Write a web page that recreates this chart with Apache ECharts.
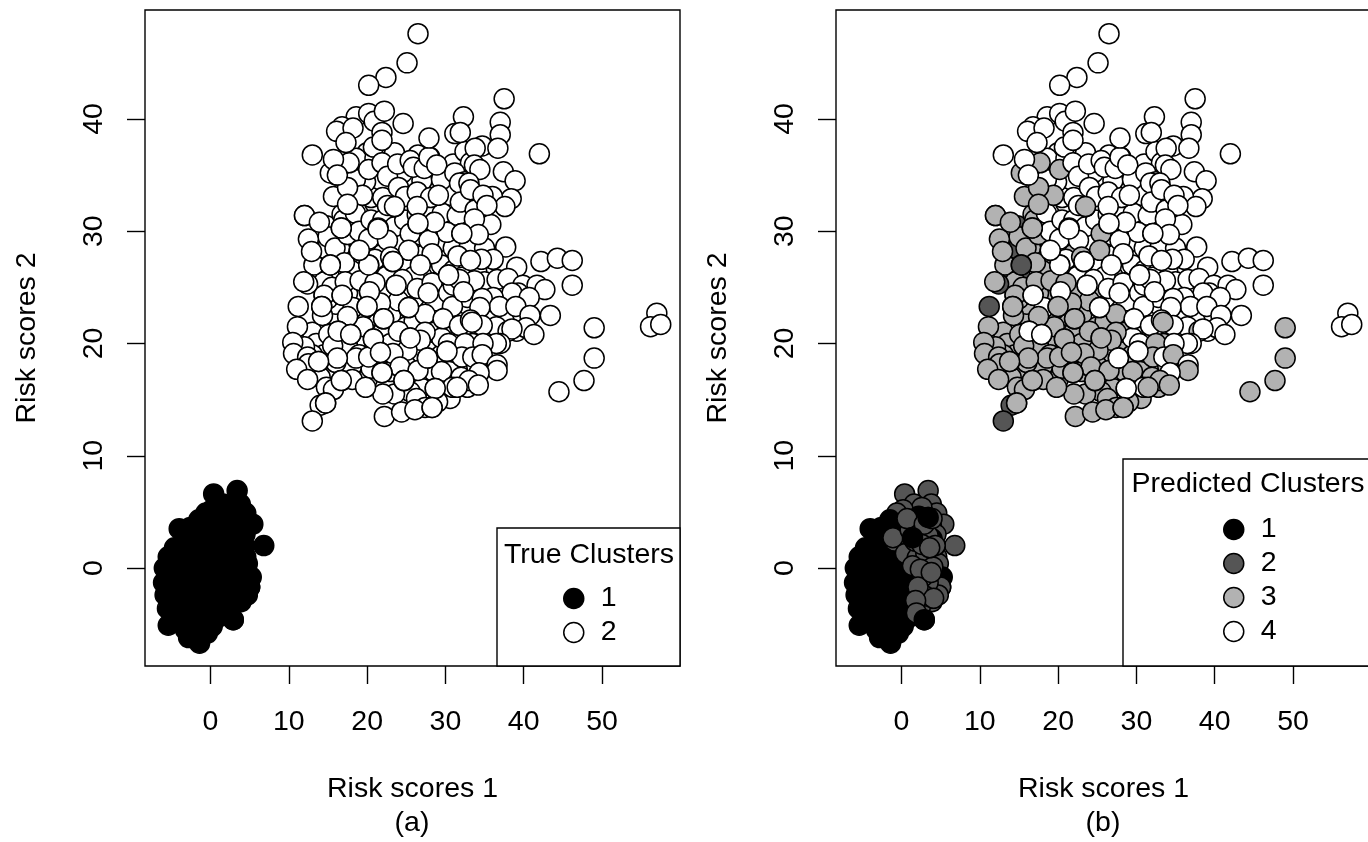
<!DOCTYPE html>
<html><head><meta charset="utf-8">
<style>html,body{margin:0;padding:0;background:#fff;overflow:hidden}#c{width:1368px;height:842px}</style>
<script src="https://cdn.jsdelivr.net/npm/echarts@6/dist/echarts.min.js"></script>
</head><body><div id="c"></div>
<script>
// each point: [risk score 1, risk score 2, predicted cluster], in drawing order
var blobPoints = [
[0.4,6.6,2],[3.4,6.9,2],[3.8,5.7,2],[4.5,4.9,2],[5.4,3.9,2],[6.8,2,2],[4.5,1,2],[4.7,-.8,2],[4.7,-2.2,2],[3.2,-3.1,2],[1.1,5,2],[2.4,3.7,2],[1.1,3.4,2],[3.4,2.9,2],[4.3,2,2],[3.1,1.3,2],[4,.1,2],[5,-1.7,2],[3.4,-1.3,2],[2.7,-.8,2],[2.4,-3.5,2],[4.3,-.8,2],[3.4,.1,2],[2,-2,2],[1.5,-3,2],[1.5,-1,2],[2,0,2],[1,.5,2],[1,-4,2],[2,-4.2,2],[-.5,2.5,2],[-1.1,2.7,2],[-2.4,2.9,2],[1.6,5.7,2],[2.6,5.4,2],[.2,5.2,2],[-.6,4.9,2],[4.7,.4,2],[4.8,-1.4,2],[3.8,3.8,2],[4.4,3,2],[3.9,-3,2],
[-4,3.5,1],[-1.5,4.3,1],[-.8,3.8,1],[-2.6,3.6,1],[3.4,4.5,1],[1.4,2.7,1],[5.2,-.8,1],[2.9,-4.6,1],[3.9,2.6,1],[2.2,4.6,1],
[-5.4,1,1],[-4.6,1.8,1],[-3.5,2,1],[-2.5,1.8,1],[-1.5,1.5,1],[-.5,1,1],[-5.9,0,1],[-4.8,.2,1],[-3.6,.6,1],[-2.5,.6,1],[-1.4,.4,1],[-.3,.1,1],[.4,-.2,1],[-6,-1.3,1],[-5,-1.2,1],[-4,-.8,1],[-3,-.6,1],[-2,-.7,1],[-1,-.8,1],[0,-1,1],[.8,-1.2,1],[-5.8,-2.4,1],[-4.8,-2.4,1],[-3.8,-2,1],[-2.8,-1.9,1],[-1.8,-2,1],[-.8,-2,1],[.2,-2.2,1],[1,-2.4,1],[-5.5,-3.6,1],[-4.5,-3.5,1],[-3.5,-3.2,1],[-2.5,-3.2,1],[-1.5,-3.2,1],[-.5,-3.3,1],[.5,-3.4,1],[-5.4,-5.1,1],[-4.4,-4.6,1],[-3.4,-4.5,1],[-2.4,-4.4,1],[-1.4,-4.4,1],[-.4,-4.5,1],[.6,-4.6,1],[-2.8,-6.2,1],[-1.4,-6.7,1],[-.4,-5.8,1],[-2,-5.5,1],[-3.2,-5.5,1],[.2,-5.2,1],
[.4,2,2],[-.9,2.4,2],[-1.1,2.7,2],[.9,1.4,2],[.5,1.3,2],[2,.9,2],[1.1,3.4,2],[2.4,3.7,2],[.7,4.4,2],[3.4,2.9,2],[4.3,2,2],[3.1,1.3,2],[4,.1,2],[5,-1.7,2],[4.7,-2.4,2],[3.4,-1.3,2],[2.7,-.8,2],[2.4,-3.5,2],[3,-2.5,2],[1.7,2.4,2],[2.6,2.1,2],[3.6,1.8,2],[1.4,.2,2],[2.4,-.1,2],[2.1,-1.7,2],[3.8,-.4,2],[4.1,-2.7,2],[1.8,-2.9,2],[1.9,-4,2],[2.9,3.9,2],[3.9,4.4,2],
[1.4,2.7,1],[3.4,4.5,1],[2.9,-4.6,1]
];
var cloudPoints = [
[14.8,30.5,2],[13.9,29.4,3],[14.8,28.4,2],[15.1,26.2,2],[14.5,24.3,2],[13.8,26.5,2],[14.5,25.5,3],[15.5,25,3],[13.2,27,3],[16,22.5,3],
[15,29.5,3],[16.5,28.5,3],[16.8,31.5,3],[17,31,3],[18.5,33,3],[18,35,3],[18.5,27.5,3],[20,26,3],[22,28,3],[19.5,31.5,4],[21,32.5,4],[23,31.5,4],[25,30.5,4],[27.5,30,4],[29,29,4],[31,28.5,4],[33,28.5,4],[35,28.5,4],[25,34.5,4],[28,34,4],[30,32,4],[20.5,33,4],[22.5,35.5,4],[20,37,4],[24,29,4],[26,28,3],
[21,22.5,3],[23,22.5,3],[25,21.5,3],[28,23,4],[30,24,4],[29,25.5,4],[27,26,3],[25,25,3],[23,26.5,3],[19,24.5,3],[18,21.8,3],[16,23.5,3],[15,24,3],[13,21,3],[13.5,20,3],[14.5,19,3],[16.5,20,3],[19,20.5,3],[21,18.5,3],[22.5,18.5,3],[24,19,3],[26.5,18.7,3],[28,19.8,3],[29.5,19,3],[31,18.5,4],[32,21,4],[33,24.8,4],[35.5,23.5,4],[37.5,22,4],[37,24.5,4],[27,16,3],[29.7,16.5,4],[25.5,15.7,3],[23.5,15.5,3],[17,17.8,3],[15,17.5,3],[20,16.8,3],[28.5,14.8,3],
[15.9,28.5,3],[18.5,31.6,4],[17.5,29.7,3],[19,30,4],[20.5,31,4],[22,31,4],[23.5,30.4,4],[24.8,31,4],[26.4,31.5,4],[28,32,4],[30.5,33.2,4],[27,34.5,4],[29.5,34.6,4],[24.5,35.2,4],[22,33,4],[19.8,34.4,4],[18.5,34.6,4],[18.6,36.5,4],[21,36.5,4],[23.5,37,4],[26.5,36.8,4],[28.2,36.2,4],[28,36.6,4],[31,36,4],[30.8,31,4],[33.5,33,4],
[21,27.5,4],[22.5,26,4],[24.5,27,4],[26,26,4],[27.5,28,4],[29.5,27,4],[31,26.5,4],[33,27,4],[34,26.4,4],[35,25.5,4],[22,24.5,3],[24,23.8,3],[19.5,23,3],[17.5,24.5,3],[18,26.5,3],[19.5,21.5,3],[22,21,3],[23,20,3],[26,22,3],[28.5,21,3],[29.5,20.5,4],[31,22.8,4],[32.7,23.5,4],[35.5,22,4],[36.5,21.5,4],[33.5,20,3],[31.5,19.5,4],[28.5,17.5,3],[30.5,17.5,3],[32,17,3],[34,18,3],[25,18,3],[23,17.5,3],[20.5,17.8,3],[18,18,3],[16,18.3,3],[14,17,3],[13,19,3],[12,19.7,3],[17.5,19.8,3],[19,19,3],[22,15.5,3],[30.6,15.1,3],[29,14.8,3],
[12,31.4,3],[16.7,30.3,3],[12.5,29.3,3],[12.9,28.2,3],[19,28.3,4],[20.2,29.3,4],[21.4,30.3,4],[22.6,29.2,4],[25.5,29.8,3],[26.5,30.7,4],[28.6,30.8,4],[29.6,31.6,4],[31.5,31.4,4],[30.2,29.9,4],[32.1,29.8,3],[27.9,29.2,4],[28.3,28,4],[31.6,27.8,4],[25.3,28.3,3],[23,27.7,3],[23.3,27.3,4],[20.2,27,4],[17.1,27.2,3],[15.3,27,2],[26.8,27,4],[30.4,26.1,4],[32.1,25.9,4],[12.4,25.3,2],[11.9,25.5,3],[14.5,24.3,3],[16.8,24.3,4],[17.2,25.5,3],[19.1,25.6,3],[20.3,24.6,4],[21,25.4,3],[23.7,25.2,4],[24.5,25.7,4],[27.8,24.5,4],[26.4,24.9,4],[28.7,23.8,4],[28.3,25.4,4],[30.4,24.5,4],[32.8,24.1,4],[11.2,23.3,2],[14.2,23.3,3],[18.2,23.2,4],[20,23.3,3],[21.7,23.6,3],[25.3,23.2,4],[27.4,22.6,3],[30.9,23.3,4],[14.3,22.5,3],[17.5,22.4,3],[22.1,22.2,3],[29.7,22.2,4],[31.8,21.6,4],[11.1,21.5,3],[16.3,21.1,4],[17.9,20.8,4],[15.1,20.8,3],[24,21.1,3],[25.5,20.5,3],[27.4,21,3],[26.8,20.3,3],[20.8,20.4,3],[10.5,20.1,3],[30.4,20,4],[15.6,19.8,3],[21.7,19.2,3],[30.2,19.3,4],[25.1,19.4,3],[10.6,19.1,3],[12.4,18.8,3],[18.6,18.7,3],[20.2,18.8,3],[23.3,19.1,3],[27.7,18.7,4],[13.8,18.4,3],[12.5,18.2,3],[16.2,18.7,3],[11,17.7,3],[12.4,16.8,3],[24.2,17.9,3],[29.5,17.5,3],[21.9,17.4,3],[26.5,17.6,3],[16.7,16.7,3],[18.1,16.8,3],[14.8,16.1,3],[24.7,16.7,3],[19.8,16.1,3],[28.7,16,4],[30.9,16.1,4],[32.8,16.1,3],[15.7,15.9,3],[26.3,15.1,3],[14,14.5,2],[14.7,14.7,3],[13,13.1,2],[22.2,13.5,3],[24.4,13.9,3],[27.4,14.3,3],[26.1,14.1,3],[28.3,14.3,3],
[20.2,35.5,3],[17.7,36.1,3],[16.1,35,3],[15.7,33.1,3],[15.3,35.2,3],[19.4,33.2,3],[17.5,33.9,3],[17.5,32.4,3],[23.5,32.2,3],
[13,36.8,4],[20.8,37.5,4],[15.7,36.4,4],[21.9,36.1,4],[22.6,34.9,4],[16.2,35,4],[23.9,36,4],[25.5,36.3,4],[25.9,35.7,4],[27.3,35.6,4],[27.9,36.6,4],[28.9,35.9,4],[32.5,37.1,4],[33.2,36.1,4],[31.2,35.2,4],[32.5,34.4,4],[31.8,34.3,4],[24,33.9,4],[24.9,33.1,4],[26.4,33.5,4],[28.1,33,4],[29.1,33.2,4],[31.9,32.6,4],[22.6,32.3,4],[26.4,32.2,4],
[18.6,40.2,4],[20.2,40.5,4],[20.9,39.8,4],[16.8,39.3,4],[16.1,38.9,4],[18.2,39.2,4],[21.9,38.8,4],[21.9,38.1,4],[17.3,37.9,4],[22.2,40.7,4],[26.5,47.6,4],[25.1,45,4],[22.4,43.7,4],[20.2,43,4],[24.6,39.6,4],[32.3,40.2,4],[27.9,38.3,4],[31.2,38.7,4],[31.9,38.8,4],
[37.5,41.8,4],[37,39.7,4],[37,38.6,4],[34.7,37.6,4],[36.7,37.4,4],[42,36.9,4],[37.4,35.3,4],[38.9,34.5,4],[38.4,32.9,4],[36,33.1,4],[33.8,37.4,4],[33.7,35.9,4],[34.4,35.5,4],[33,34.3,4],[33.8,31.9,4],[33.2,33.7,4],[34.8,33.2,4],[35.8,30.6,4],[37.6,32.2,4],[35.3,32.3,4],[33.7,31.1,4],[34.2,29.7,4],[32.1,29.8,4],
[37.7,28.6,4],[36.1,27.5,4],[34.6,27.5,4],[39.1,26.8,4],[42.2,27.3,4],[44.3,27.6,4],[46.2,27.4,4],[46.2,25.2,4],[36.6,25.7,4],[38,25.8,4],[33.7,25.6,4],[39.9,25.2,4],[41.7,25.2,4],[42.7,24.8,4],[39.3,24.5,4],[38.5,24.5,4],[40.7,24.1,4],[36.1,24.1,4],[34.7,24,4],[36.9,23.3,4],[39,23.3,4],[34.4,23.2,4],[43.4,22.5,4],[40.8,22.5,4],[33.2,22.1,4],[34.7,21.6,4],[39.1,21.1,4],[38,21.1,3],[40.3,21.4,4],[41.3,20.8,4],[38.5,21.3,4],[49,21.4,3],[57,22.7,4],[56.2,21.5,4],[57.5,21.7,4],[49,18.7,3],[47.7,16.7,3],[44.5,15.7,3],
[37,20,4],[36.5,20,4],[32.5,20,3],[34.8,20,4],[32.1,18.8,3],[33.5,18.8,4],[34.7,19,3],[36.6,18.1,4],[36.6,17.6,3],[34.3,17.4,4],[33,16.7,3],[34.2,16.3,3],[33.4,21.9,3],[31.5,16.1,3],[31,25.2,4],[33.2,27.4,4],[31.8,25.7,4],
[16.8,24.3,4],[20.2,27,4],[19,28.3,4],[20.3,24.6,4],[25.3,23.2,4],[23.3,27.3,4],[23.7,25.2,4],[27.8,24.5,4],[28.7,16,4],[27.7,18.7,4],[30.2,19.3,4],[16.3,21.1,4],[17.9,20.8,4],[32.3,24.6,4],[30.4,26.1,4],[28.6,30.8,4],[26.5,30.7,4],
[20,23.3,3],[14.2,23.3,3],[22.1,22.2,3],[20.8,20.4,3],[21.7,19.2,3],[25.5,20.5,3],[13.8,18.4,3],[24.7,16.7,3],[21.9,17.4,3],[16.7,16.7,3],[14.7,14.7,3],[28.3,14.3,3],[15.3,27,2],[12,31.4,3],[13.9,30.8,3],[16.7,30.3,3],[21.4,30.2,4],[23.5,32.2,3]
];
var clusterFills = {'1':'#000000','2':'#555555','3':'#B2B2B2','4':'#FFFFFF'};
var trueFills = {'1':'#000000','2':'#FFFFFF'};
var xTickValues = [0,10,20,30,40,50];
var yTickValues = [0,10,20,30,40];
var trueLabels = ['1','2'];
var predictedLabels = ['1','2','3','4'];

var INK='#000', FONT='"Liberation Sans", Arial, Helvetica, sans-serif', FS=28.5;
var series=[];
function pushRuns(points, labelOf, fills, panel){
  var run=null;
  points.forEach(function(p){
    var name=String(labelOf(p));
    if(!run||run.name!==name){
      run={name:name,type:'scatter',xAxisIndex:panel,yAxisIndex:panel,symbol:'circle',symbolSize:20,
        itemStyle:{color:fills[name],borderColor:INK,borderWidth:1.5,opacity:1},silent:true,data:[]};
      series.push(run);
    }
    run.data.push([p[0],p[1]]);
  });
}
pushRuns(blobPoints,function(){return 1;},trueFills,0);
pushRuns(cloudPoints,function(){return 2;},trueFills,0);
pushRuns(blobPoints,function(p){return p[2];},clusterFills,1);
pushRuns(cloudPoints,function(p){return p[2];},clusterFills,1);

function xAxis(i){return {type:'value',gridIndex:i,min:-8.37,max:59.96,name:'Risk scores 1',nameLocation:'middle',nameGap:109,
  nameTextStyle:{color:INK,fontSize:FS,fontFamily:FONT},splitLine:{show:false},axisLine:{show:false,onZero:false},
  axisTick:{show:true,length:18,lineStyle:{color:INK,width:1.4},customValues:xTickValues},
  axisLabel:{color:INK,fontSize:FS,fontFamily:FONT,margin:42,customValues:xTickValues,hideOverlap:false}};}
function yAxis(i){return {type:'value',gridIndex:i,min:-8.73,max:49.71,name:'Risk scores 2',nameLocation:'middle',nameGap:103,nameRotate:90,
  nameTextStyle:{color:INK,fontSize:FS,fontFamily:FONT},splitLine:{show:false},axisLine:{show:false,onZero:false},
  axisTick:{show:true,length:18,lineStyle:{color:INK,width:1.4},customValues:yTickValues},
  axisLabel:{color:INK,fontSize:FS,fontFamily:FONT,margin:51,rotate:90,verticalAlign:'middle',align:'center',customValues:yTickValues}};}
function grid(l){return {left:l,top:10,width:535,height:656,show:true,borderColor:INK,borderWidth:1.4,backgroundColor:'#fff',outerBoundsMode:'none',containLabel:false};}
function legend(labels,fills,l,t){return {show:true,selectedMode:false,orient:'vertical',left:l,top:t,padding:0,itemWidth:20,itemHeight:20,itemGap:5,icon:'circle',
  textStyle:{color:INK,fontSize:FS,fontFamily:FONT,padding:[0,0,0,12]},
  data:labels.map(function(n){return {name:n,icon:'circle',itemStyle:{color:fills[n],borderColor:INK,borderWidth:1.5}};})};}
function cap(text,cx){return {text:text,left:cx,top:809,textAlign:'center',padding:0,textStyle:{color:INK,fontSize:FS,fontWeight:'normal',fontFamily:FONT}};}
function legendBox(x,y,w,h){return {type:'rect',z:3,shape:{x:x,y:y,width:w,height:h},style:{fill:'#fff',stroke:INK,lineWidth:1.4}};}
function legendTitle(t,cx,cy){return {type:'text',z:5,x:cx,y:cy,style:{text:t,fill:INK,font:FS+'px '+FONT,textAlign:'center',textVerticalAlign:'middle'}};}

var chart=echarts.init(document.getElementById('c'),null,{renderer:'canvas',width:1368,height:842});
chart.setOption({animation:false,backgroundColor:'#fff',
  title:[cap('(a)',412),cap('(b)',1103)],
  grid:[grid(145),grid(836)],xAxis:[xAxis(0),xAxis(1)],yAxis:[yAxis(0),yAxis(1)],
  legend:[legend(trueLabels,trueFills,563,584),legend(predictedLabels,clusterFills,1223,515)],
  graphic:[legendBox(497,528,183,138),legendBox(1123,459,260,207),legendTitle('True Clusters',589,555),legendTitle('Predicted Clusters',1248,484)],
  series:series});
</script></body></html>
